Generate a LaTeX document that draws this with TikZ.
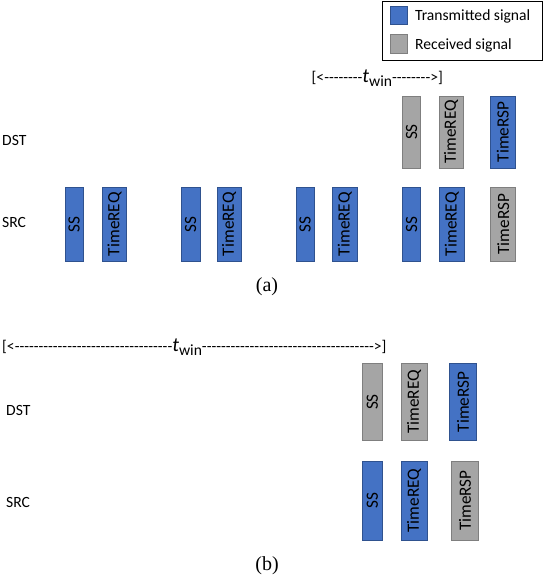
\documentclass[tikz,border=0pt]{standalone}
\usepackage{fontspec}
\setmainfont{Carlito}
\newfontfamily\winfont{Carlito}[Ligatures=TeXOff]
\newfontfamily\capfont{Liberation Serif}
\definecolor{txblue}{RGB}{68,114,196}
\definecolor{txborder}{RGB}{47,82,143}
\definecolor{rxgray}{RGB}{165,165,165}
\definecolor{rxborder}{RGB}{127,127,127}
\newcommand{\twin}{{\fontsize{20}{20}\selectfont\itshape t}\raisebox{-4pt}{win}}
\begin{document}
\begin{tikzpicture}[x=1pt,y=-1pt,
  sigbox/.style={rectangle, rotate=90, inner sep=0pt, line width=0.8pt, font=\fontsize{17.2}{17}\selectfont},
  txsig/.style={sigbox, fill=txblue, draw=txborder},
  rxsig/.style={sigbox, fill=rxgray, draw=rxborder},
  lbl/.style={anchor=west, inner sep=0pt, font=\fontsize{15.6}{16}\selectfont},
  capt/.style={inner sep=0pt, font=\capfont\fontsize{20}{22}\selectfont},
  win/.style={anchor=west, inner sep=0pt, font=\winfont\fontsize{15.6}{16}\selectfont}
]
\useasboundingbox (0,0) rectangle (544,576);
% legend
\node[draw=black, line width=0.8pt, minimum width=160pt, minimum height=59pt, inner sep=0pt, anchor=north west] (legend) at (382,0.5) {};
\node[txsig, minimum width=18pt, minimum height=16.5pt] (legtx) at (399,15.5) {};
\node[rxsig, minimum width=19pt, minimum height=16.5pt] (legrx) at (399,43.8) {};
\node[lbl] (legtxt1) at (415,16) {Transmitted signal};
\node[lbl] (legtxt2) at (415,45) {Received signal};

% ---------- (a) ----------
\node[win] (wina) at (311.5,78) {[<--------\twin-------->]};
\node[lbl] (dsta) at (2,140.5) {DST};
\node[lbl] (srca) at (2,222) {SRC};
% DST row
\node[rxsig, minimum width=72pt, minimum height=18pt] (adss) at (411.7,132) {SS};
\node[rxsig, minimum width=72pt, minimum height=24pt] (adreq) at (451,132) {TimeREQ};
\node[txsig, minimum width=72pt, minimum height=25.5pt] (adrsp) at (502.8,132) {TimeRSP};
% SRC row
\node[txsig, minimum width=73.5pt, minimum height=18.3pt] (ass1) at (74.2,224.2) {SS};
\node[txsig, minimum width=73.5pt, minimum height=24pt] (areq1) at (114.7,224.2) {TimeREQ};
\node[txsig, minimum width=73.5pt, minimum height=19pt] (ass2) at (190.5,224.2) {SS};
\node[txsig, minimum width=73.5pt, minimum height=24pt] (areq2) at (229,224.2) {TimeREQ};
\node[txsig, minimum width=73.5pt, minimum height=18.3pt] (ass3) at (305.2,224.2) {SS};
\node[txsig, minimum width=73.5pt, minimum height=24.3pt] (areq3) at (344.8,224.2) {TimeREQ};
\node[txsig, minimum width=73.5pt, minimum height=18pt] (ass4) at (411.7,224.2) {SS};
\node[txsig, minimum width=73.5pt, minimum height=25pt] (areq4) at (451.8,224.2) {TimeREQ};
\node[rxsig, minimum width=73.5pt, minimum height=25pt] (arsp) at (503.2,224.2) {TimeRSP};
\node[capt] (capa) at (267,287) {(a)};

% ---------- (b) ----------
\node[win] (winb) at (2,347) {[<---------------------------------\twin------------------------------------>]};
\node[lbl] (dstb) at (6,410) {DST};
\node[lbl] (srcb) at (6,502.7) {SRC};
% DST row
\node[rxsig, minimum width=77.4pt, minimum height=20pt] (bdss) at (372.3,402) {SS};
\node[rxsig, minimum width=77.4pt, minimum height=26.3pt] (bdreq) at (414.2,402) {TimeREQ};
\node[txsig, minimum width=77.4pt, minimum height=27.4pt] (bdrsp) at (463,402) {TimeRSP};
% SRC row
\node[txsig, minimum width=78.7pt, minimum height=20pt] (bsss) at (372.3,500.7) {SS};
\node[txsig, minimum width=78.7pt, minimum height=26.3pt] (bsreq) at (414.2,500.7) {TimeREQ};
\node[rxsig, minimum width=78.7pt, minimum height=26.6pt] (bsrsp) at (465,500.7) {TimeRSP};
\node[capt] (capb) at (267,566) {(b)};
\end{tikzpicture}
\end{document}
